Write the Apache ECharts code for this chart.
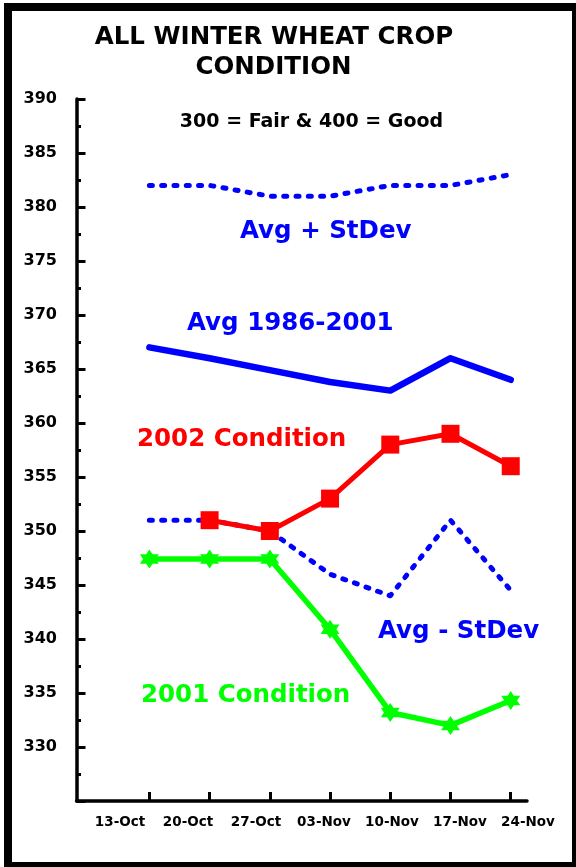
<!DOCTYPE html>
<html>
<head>
<meta charset="utf-8">
<script src="https://cdn.jsdelivr.net/npm/echarts@6/dist/echarts.min.js"></script>
<style>
  html, body { margin: 0; padding: 0; background: #fff; }
  #chart { width: 576px; height: 867px; }
</style>
</head>
<body>
<div id="chart"></div>
<script>
// weekly dates (x axis)
var weeks = ['13-Oct', '20-Oct', '27-Oct', '03-Nov', '10-Nov', '17-Nov', '24-Nov'];

// condition index values
var avgPlusStd = [382, 382, 381, 381, 382, 382, 383];
var avg8601 = [367, 366, 364.9, 363.8, 363, 366, 364];
var avgMinusStd = [351, 351, 350, 346, 344, 351, 344.5];
var cond2002 = [null, 351, 350, 353, 358, 359, 356];
var cond2001 = [347.4, 347.4, 347.4, 340.9, 333.2, 332, 334.3];

var FONT = 'DejaVu Sans';
var STAR = 'path://M0,-10L2.89,-5L8.66,-5L5.77,0L8.66,5L2.89,5L0,10L-2.89,5L-8.66,5L-5.77,0L-8.66,-5L-2.89,-5Z';

function pts(vals) {
    var out = [];
    vals.forEach(function (v, i) {
        if (v !== null) out.push([i, v]);
    });
    return out;
}

var dotted = { color: '#0000ff', width: 5, type: [3, 9.3], cap: 'round', join: 'round' };

var chart = echarts.init(document.getElementById('chart'));

var option = {
    animation: false,
    backgroundColor: '#fff',
    grid: [
        { left: 76.5, right: 49, top: 99, height: 702 },
        // only carries the date labels, they sit offset from the ticks like the original
        { left: 86, right: 14, top: 99, height: 702 }
    ],
    xAxis: [{
        type: 'value',
        gridIndex: 0,
        min: -1.21,
        max: 6.27,
        splitLine: { show: false },
        axisLine: { show: true, onZero: false, lineStyle: { color: '#000', width: 3.5 } },
        axisTick: {
            show: true,
            inside: true,
            length: 9,
            customValues: [0, 1, 2, 3, 4, 5, 6],
            lineStyle: { color: '#000', width: 3 }
        },
        axisLabel: { show: false }
    }, {
        type: 'category',
        gridIndex: 1,
        data: weeks,
        boundaryGap: true,
        axisLine: { show: false, onZero: false },
        axisTick: { show: false },
        splitLine: { show: false },
        axisLabel: {
            interval: 0,
            margin: 14,
            color: '#000',
            fontFamily: FONT,
            fontWeight: 'bold',
            fontSize: 13.5
        }
    }],
    yAxis: [{
        type: 'value',
        gridIndex: 0,
        min: 325,
        max: 390,
        interval: 5,
        splitLine: { show: false },
        axisLine: { show: true, onZero: false, lineStyle: { color: '#000', width: 3.5 } },
        axisTick: { show: true, inside: true, length: 9, lineStyle: { color: '#000', width: 3 } },
        minorTick: { show: true, splitNumber: 2, length: 4.5, lineStyle: { color: '#000', width: 3 } },
        axisLabel: {
            showMinLabel: false,
            margin: 19.5,
            color: '#000',
            fontFamily: FONT,
            fontWeight: 'bold',
            fontSize: 16
        }
    }, {
        type: 'value',
        gridIndex: 1,
        show: false
    }],
    series: [{
        name: 'Avg + StDev',
        type: 'line',
        data: pts(avgPlusStd),
        showSymbol: false,
        symbol: 'none',
        lineStyle: dotted
    }, {
        name: 'Avg - StDev',
        type: 'line',
        data: pts(avgMinusStd),
        showSymbol: false,
        symbol: 'none',
        lineStyle: dotted
    }, {
        name: 'Avg 1986-2001',
        type: 'line',
        data: pts(avg8601),
        symbol: 'none',
        lineStyle: { color: '#0000ff', width: 6.5, join: 'round', cap: 'round' }
    }, {
        name: '2001 Condition',
        type: 'line',
        data: pts(cond2001),
        symbol: STAR,
        symbolSize: 19,
        itemStyle: { color: '#00ff00' },
        lineStyle: { color: '#00ff00', width: 5.5, join: 'round' }
    }, {
        name: '2002 Condition',
        type: 'line',
        data: pts(cond2002),
        symbol: 'rect',
        symbolSize: 18,
        itemStyle: { color: '#ff0000' },
        lineStyle: { color: '#ff0000', width: 5, join: 'round' }
    }],
    graphic: [
        {
            type: 'rect',
            shape: { x: 8, y: 7, width: 568, height: 859 },
            style: { fill: null, stroke: '#000', lineWidth: 8 },
            silent: true
        },
        { type: 'text', x: 274, y: 37.5, style: { text: 'ALL WINTER WHEAT CROP', fill: '#000', font: 'bold 24.5px "DejaVu Sans"', align: 'center', verticalAlign: 'middle' } },
        { type: 'text', x: 273.5, y: 67.5, style: { text: 'CONDITION', fill: '#000', font: 'bold 24.5px "DejaVu Sans"', align: 'center', verticalAlign: 'middle' } },
        { type: 'text', x: 311.5, y: 122.5, style: { text: '300 = Fair & 400 = Good', fill: '#000', font: 'bold 19px "DejaVu Sans"', align: 'center', verticalAlign: 'middle' } },
        { type: 'text', x: 240, y: 232, style: { text: 'Avg + StDev', fill: '#0000ff', font: 'bold 24.5px "DejaVu Sans"', align: 'left', verticalAlign: 'middle' } },
        { type: 'text', x: 187, y: 324, style: { text: 'Avg 1986-2001', fill: '#0000ff', font: 'bold 24.5px "DejaVu Sans"', align: 'left', verticalAlign: 'middle' } },
        { type: 'text', x: 137, y: 440, style: { text: '2002 Condition', fill: '#ff0000', font: 'bold 24.5px "DejaVu Sans"', align: 'left', verticalAlign: 'middle' } },
        { type: 'text', x: 378, y: 632, style: { text: 'Avg - StDev', fill: '#0000ff', font: 'bold 24.5px "DejaVu Sans"', align: 'left', verticalAlign: 'middle' } },
        { type: 'text', x: 141, y: 696, style: { text: '2001 Condition', fill: '#00ff00', font: 'bold 24.5px "DejaVu Sans"', align: 'left', verticalAlign: 'middle' } }
    ]
};

chart.setOption(option);
</script>
</body>
</html>
